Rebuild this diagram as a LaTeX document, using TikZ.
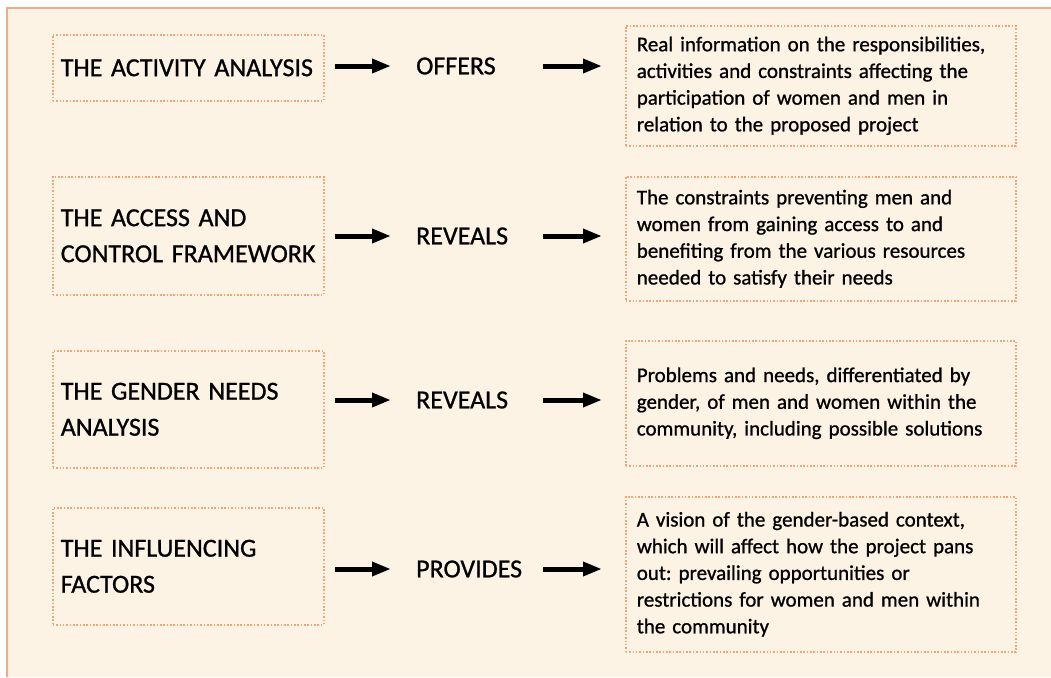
\documentclass[tikz,border=0pt]{standalone}
\usepackage{fontspec}
\setmainfont{Carlito}[UprightFeatures={FakeBold=0.9}]
\usetikzlibrary{arrows.meta}
\definecolor{bgc}{HTML}{FDF3E5}
\definecolor{framec}{HTML}{F2A98A}
\definecolor{dotc}{HTML}{F1A577}
\tikzset{
  dotbox/.style={draw=dotc, line width=1.6pt, dash pattern=on 1.6pt off 1.75pt,
    anchor=north west, inner ysep=0pt, align=left},
  leftbox/.style={dotbox, minimum width=271pt, text width=255pt, inner xsep=8pt,
    font=\fontsize{26}{36}\selectfont\frenchspacing},
  rightbox/.style={dotbox, minimum width=390pt, text width=368pt, inner xsep=11pt,
    font=\fontsize{21}{26.7}\selectfont\frenchspacing},
  midlab/.style={anchor=west, inner sep=0pt, font=\fontsize{26}{36}\selectfont},
  arr/.style={line width=5pt, -{Triangle[length=19pt,width=13.5pt]}}
}
\begin{document}
\begin{tikzpicture}[x=1pt,y=-1pt]
\useasboundingbox (0,0) rectangle (1051,677);
\fill[bgc] (7,8) rectangle (1051,677);
\draw[framec, line width=2.5pt] (7,677) -- (7,8) -- (1051,8);

% left boxes
\node[leftbox, minimum height=66pt]  (L1) at (52,34)  {THE ACTIVITY ANALYSIS};
\node[leftbox, minimum height=118pt] (L2) at (52,176) {THE ACCESS AND\\CONTROL FRAMEWORK};
\node[leftbox, minimum height=117pt] (L3) at (52,350) {THE GENDER NEEDS\\ANALYSIS};
\node[leftbox, minimum height=117pt] (L4) at (52,507) {THE INFLUENCING\\FACTORS};

% middle labels
\node[midlab] (M1) at (416,66)  {OFFERS};
\node[midlab] (M2) at (416,236) {REVEALS};
\node[midlab] (M3) at (416,400) {REVEALS};
\node[midlab] (M4) at (416,569) {PROVIDES};

% right boxes
\node[rightbox, minimum height=120pt] (R1) at (625,25)
  {Real information on the responsibilities,\\activities and constraints affecting the\\participation of women and men in\\relation to the proposed project};
\node[rightbox, minimum height=124pt] (R2) at (625,176)
  {The constraints preventing men and\\women from gaining access to and\\benefiting from the various resources\\needed to satisfy their needs};
\node[rightbox, minimum height=125pt] (R3) at (625,340)
  {Problems and needs, differentiated by\\gender, of men and women within the\\community, including possible solutions};
\node[rightbox, minimum height=155pt] (R4) at (625,496)
  {A vision of the gender-based context,\\which will affect how the project pans\\out: prevailing opportunities or\\restrictions for women and men within\\the community};

% arrows
\foreach \i in {1,2,3,4}{
  \draw[arr] ([xshift=10pt]L\i.east |- M\i.west) -- ([xshift=-25pt]M\i.west);
  \draw[arr] ([xshift=-82pt]R\i.west |- M\i.west) -- ([xshift=-23pt]R\i.west |- M\i.west);
}
\end{tikzpicture}
\end{document}
